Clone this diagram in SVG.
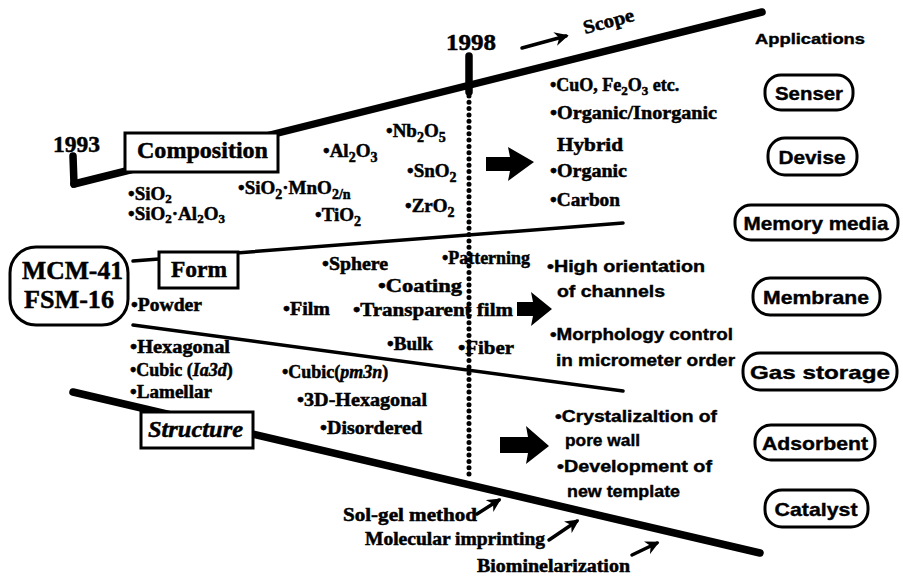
<svg xmlns="http://www.w3.org/2000/svg" width="903" height="581" viewBox="0 0 903 581">
<style>
.s{font-family:"Liberation Serif","Times New Roman",serif;font-weight:bold;fill:#000;stroke:#000;stroke-width:0.5}
.a{font-family:"Liberation Sans",Arial,sans-serif;font-weight:bold;fill:#000;stroke:#000;stroke-width:0.4}
.box{fill:#fff;stroke:#000;stroke-width:3}
.pill{fill:#fff;stroke:#000;stroke-width:3}
.thick{stroke:#000;stroke-width:7.5;stroke-linecap:round;fill:none}
.thin{stroke:#000;stroke-width:3.5;stroke-linecap:round;fill:none}
.arr{stroke:#000;stroke-width:3.5;stroke-linecap:round;fill:none;marker-end:url(#ah)}
.big{fill:#000}
</style>
<defs>
<marker id="ah" viewBox="0 0 10 10" refX="8" refY="5" markerWidth="4" markerHeight="4" orient="auto" markerUnits="strokeWidth">
<path d="M0,0 L10,5 L0,10 L3,5 z" fill="#000"/>
</marker>
</defs>
<rect width="903" height="581" fill="#fff"/>

<g id="connectors">
  <line class="thick" x1="73" y1="156" x2="74" y2="184"/>
  <line class="thick" x1="74" y1="184" x2="762" y2="12"/>
  <line class="thick" x1="469" y1="56" x2="469" y2="92"/>
  <line x1="469" y1="96" x2="469" y2="478" stroke="#000" stroke-width="5" stroke-linecap="round" stroke-dasharray="0 6.3"/>
  <line class="thin" x1="133" y1="261" x2="623" y2="223"/>
  <line class="thin" x1="133" y1="325" x2="623" y2="391"/>
  <line class="thick" x1="73" y1="392" x2="760" y2="553"/>
  <line class="arr" x1="522" y1="48" x2="566" y2="36"/>
  <line class="arr" x1="477" y1="514" x2="499" y2="500"/>
  <line class="arr" x1="549" y1="540" x2="577" y2="521"/>
  <line class="arr" x1="632" y1="555" x2="657" y2="543"/>
  <path class="big" d="M486,157 L510,157 L508,147 L534,162 L508,181 L510,171 L486,171 Z"/>
  <path class="big" d="M517,302 L533,302 L531,292 L552,309 L531,326 L533,316 L517,316 Z"/>
  <path class="big" d="M500,437 L528,437 L526,426 L549,446 L526,464 L528,453 L500,453 Z"/>
</g>

<g id="timeline-labels">
  <text class="s" x="53" y="152" font-size="24" textLength="47" lengthAdjust="spacingAndGlyphs">1993</text>
  <text class="s" x="446" y="50" font-size="24" textLength="50" lengthAdjust="spacingAndGlyphs">1998</text>
  <text class="s" x="585" y="34" font-size="19" transform="rotate(-15 585 34)" textLength="52" lengthAdjust="spacingAndGlyphs">Scope</text>
  <text class="a" x="755" y="44" font-size="15" textLength="110" lengthAdjust="spacingAndGlyphs">Applications</text>
</g>

<g id="mcm">
  <rect class="box" x="10" y="247" width="118" height="78" rx="26"/>
  <text class="s" x="22" y="279" font-size="26" textLength="101" lengthAdjust="spacingAndGlyphs">MCM-41</text>
  <text class="s" x="24" y="308" font-size="26" textLength="90" lengthAdjust="spacingAndGlyphs">FSM-16</text>
</g>

<g id="composition">
  <rect class="box" x="125" y="133" width="153" height="39"/>
  <text class="s" x="137" y="158" font-size="24" textLength="131" lengthAdjust="spacingAndGlyphs">Composition</text>
</g>
<g id="form">
  <rect class="box" x="159" y="252" width="79" height="36"/>
  <text class="s" x="171" y="277" font-size="24" textLength="56" lengthAdjust="spacingAndGlyphs">Form</text>
</g>
<g id="structure">
  <rect class="box" x="141" y="412" width="112" height="36"/>
  <text class="s" x="148" y="437" font-size="24" font-style="italic" textLength="95" lengthAdjust="spacingAndGlyphs">Structure</text>
</g>

<g id="composition-items" font-size="19">
  <text class="s" x="386" y="137">•Nb<tspan font-size="14" dy="5">2</tspan><tspan dy="-5">O</tspan><tspan font-size="14" dy="5">5</tspan></text>
  <text class="s" x="323" y="157">•Al<tspan font-size="14" dy="5">2</tspan><tspan dy="-5">O</tspan><tspan font-size="14" dy="5">3</tspan></text>
  <text class="s" x="407" y="177">•SnO<tspan font-size="14" dy="5">2</tspan></text>
  <text class="s" x="238" y="194">•SiO<tspan font-size="14" dy="5">2</tspan><tspan dy="-5">·MnO</tspan><tspan font-size="14" dy="5">2/n</tspan></text>
  <text class="s" x="405" y="212">•ZrO<tspan font-size="14" dy="5">2</tspan></text>
  <text class="s" x="128" y="200">•SiO<tspan font-size="13" dy="3">2</tspan></text>
  <text class="s" x="128" y="220">•SiO<tspan font-size="13" dy="3">2</tspan><tspan dy="-3">·Al</tspan><tspan font-size="13" dy="3">2</tspan><tspan dy="-3">O</tspan><tspan font-size="13" dy="3">3</tspan></text>
  <text class="s" x="315" y="221">•TiO<tspan font-size="14" dy="5">2</tspan></text>
</g>

<g id="composition-scope" font-size="18">
  <text class="s" x="550" y="91">•CuO, Fe<tspan font-size="13" dy="4">2</tspan><tspan dy="-4">O</tspan><tspan font-size="13" dy="4">3</tspan><tspan dy="-4"> etc.</tspan></text>
  <text class="s" x="550" y="119" textLength="167" lengthAdjust="spacingAndGlyphs">•Organic/Inorganic</text>
  <text class="s" x="557" y="151" textLength="66" lengthAdjust="spacingAndGlyphs">Hybrid</text>
  <text class="s" x="550" y="177" textLength="77" lengthAdjust="spacingAndGlyphs">•Organic</text>
  <text class="s" x="550" y="206" textLength="70" lengthAdjust="spacingAndGlyphs">•Carbon</text>
</g>

<g id="form-items" font-size="18">
  <text class="s" x="322" y="270" textLength="66" lengthAdjust="spacingAndGlyphs">•Sphere</text>
  <text class="s" x="442" y="264" textLength="88" lengthAdjust="spacingAndGlyphs">•Patterning</text>
  <text class="s" x="378" y="292" textLength="84" lengthAdjust="spacingAndGlyphs">•Coating</text>
  <text class="s" x="131" y="311" textLength="71" lengthAdjust="spacingAndGlyphs">•Powder</text>
  <text class="s" x="283" y="315" textLength="47" lengthAdjust="spacingAndGlyphs">•Film</text>
  <text class="s" x="353" y="316" textLength="160" lengthAdjust="spacingAndGlyphs">•Transparent film</text>
  <text class="s" x="387" y="350" textLength="46" lengthAdjust="spacingAndGlyphs">•Bulk</text>
  <text class="s" x="458" y="354" textLength="56" lengthAdjust="spacingAndGlyphs">•Fiber</text>
</g>

<g id="form-scope" font-size="16">
  <text class="a" x="547" y="272" textLength="158" lengthAdjust="spacingAndGlyphs">•High orientation</text>
  <text class="a" x="557" y="297" textLength="108" lengthAdjust="spacingAndGlyphs">of channels</text>
  <text class="a" x="550" y="340" textLength="183" lengthAdjust="spacingAndGlyphs">•Morphology control</text>
  <text class="a" x="556" y="366" textLength="179" lengthAdjust="spacingAndGlyphs">in micrometer order</text>
</g>

<g id="structure-items" font-size="18">
  <text class="s" x="130" y="353" textLength="100" lengthAdjust="spacingAndGlyphs">•Hexagonal</text>
  <text class="s" x="130" y="376">•Cubic (<tspan font-style="italic">Ia3d</tspan>)</text>
  <text class="s" x="130" y="398" textLength="82" lengthAdjust="spacingAndGlyphs">•Lamellar</text>
  <text class="s" x="282" y="378">•Cubic(<tspan font-style="italic">pm3n</tspan>)</text>
  <text class="s" x="297" y="406" textLength="130" lengthAdjust="spacingAndGlyphs">•3D-Hexagonal</text>
  <text class="s" x="320" y="434" textLength="102" lengthAdjust="spacingAndGlyphs">•Disordered</text>
</g>

<g id="structure-scope" font-size="16">
  <text class="a" x="555" y="422" textLength="162" lengthAdjust="spacingAndGlyphs">•Crystalizaltion of</text>
  <text class="a" x="565" y="446" textLength="75" lengthAdjust="spacingAndGlyphs">pore wall</text>
  <text class="a" x="557" y="472" textLength="155" lengthAdjust="spacingAndGlyphs">•Development of</text>
  <text class="a" x="567" y="497" textLength="113" lengthAdjust="spacingAndGlyphs">new template</text>
</g>

<g id="methods" font-size="18">
  <text class="s" x="343" y="521" textLength="134" lengthAdjust="spacingAndGlyphs">Sol-gel method</text>
  <text class="s" x="365" y="545" textLength="180" lengthAdjust="spacingAndGlyphs">Molecular imprinting</text>
  <text class="s" x="477" y="572" textLength="153" lengthAdjust="spacingAndGlyphs">Biominelarization</text>
</g>

<g id="app-senser">
  <rect class="pill" x="765" y="75" width="88" height="35" rx="16"/>
  <text class="a" x="809" y="100" font-size="19" text-anchor="middle" textLength="68" lengthAdjust="spacingAndGlyphs">Senser</text>
</g>
<g id="app-devise">
  <rect class="pill" x="768" y="138" width="89" height="37" rx="17"/>
  <text class="a" x="812" y="164" font-size="19" text-anchor="middle" textLength="67" lengthAdjust="spacingAndGlyphs">Devise</text>
</g>
<g id="app-memory">
  <rect class="pill" x="735" y="205" width="163" height="35" rx="16"/>
  <text class="a" x="816" y="230" font-size="19" text-anchor="middle" textLength="145" lengthAdjust="spacingAndGlyphs">Memory media</text>
</g>
<g id="app-membrane">
  <rect class="pill" x="753" y="278" width="127" height="37" rx="17"/>
  <text class="a" x="816" y="304" font-size="19" text-anchor="middle" textLength="106" lengthAdjust="spacingAndGlyphs">Membrane</text>
</g>
<g id="app-gas">
  <rect class="pill" x="743" y="353" width="154" height="37" rx="17"/>
  <text class="a" x="820" y="379" font-size="19" text-anchor="middle" textLength="140" lengthAdjust="spacingAndGlyphs">Gas storage</text>
</g>
<g id="app-adsorbent">
  <rect class="pill" x="755" y="425" width="120" height="35" rx="16"/>
  <text class="a" x="815" y="450" font-size="19" text-anchor="middle" textLength="106" lengthAdjust="spacingAndGlyphs">Adsorbent</text>
</g>
<g id="app-catalyst">
  <rect class="pill" x="765" y="490" width="103" height="37" rx="17"/>
  <text class="a" x="816" y="516" font-size="19" text-anchor="middle" textLength="83" lengthAdjust="spacingAndGlyphs">Catalyst</text>
</g>
</svg>
